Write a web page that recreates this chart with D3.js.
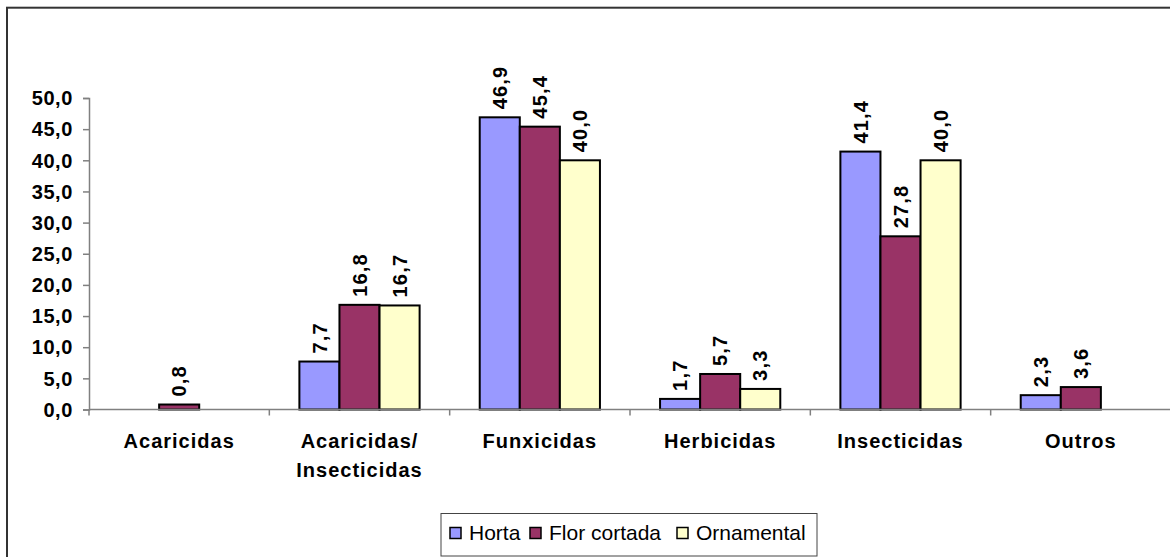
<!DOCTYPE html>
<html lang="pt">
<head>
<meta charset="UTF-8">
<script src="https://cdn.jsdelivr.net/npm/d3@7"></script>
<title>Produtos</title>
<style>
    body { margin: 0; background: #fff; }
    svg { display: block; font-family: "Liberation Sans", Arial, sans-serif; }
    .tick-lbl { font-size: 20px; font-weight: bold; fill: #000; letter-spacing: 0.6px; }
    .cat-lbl { font-size: 20px; font-weight: bold; fill: #000; letter-spacing: 1px; }
    .val-lbl { font-size: 20px; font-weight: bold; fill: #000; letter-spacing: 1.2px; }
    .leg-lbl { font-size: 21px; fill: #000; }
</style>
</head>
<body>
<svg id="chart" width="1170" height="557"></svg>
<script>
const categories = [["Acaricidas"], ["Acaricidas/", "Insecticidas"], ["Funxicidas"], ["Herbicidas"], ["Insecticidas"], ["Outros"]];
const seriesNames = ["Horta", "Flor cortada", "Ornamental"];
const horta = [null, 7.7, 46.9, 1.7, 41.4, 2.3];
const florCortada = [0.8, 16.8, 45.4, 5.7, 27.8, 3.6];
const ornamental = [null, 16.7, 40.0, 3.3, 40.0, null];
const yTicks = [0, 5, 10, 15, 20, 25, 30, 35, 40, 45, 50];
const colors = ["#9999FF", "#993366", "#FFFFCC"];

const series = [horta, florCortada, ornamental];
const fmt = v => v.toFixed(1).replace(".", ",");

const svg = d3.select("#chart");

// outer border (chart area frame, cut at right/bottom)
svg.append("rect")
    .attr("x", 7).attr("y", 7.7)
    .attr("width", 1300).attr("height", 700)
    .attr("fill", "none").attr("stroke", "#333").attr("stroke-width", 2);

const x = d3.scaleBand()
    .domain(d3.range(categories.length))
    .range([89, 1171])
    .padding(0);
const y = d3.scaleLinear().domain([0, 50]).range([409.5, 98]);

const w = x.step() / 4.5;

// y axis
const yAxis = svg.append("g")
    .attr("transform", "translate(89,0)")
    .call(d3.axisLeft(y).tickValues(yTicks).tickSize(6).tickFormat(""));
yAxis.select(".domain").attr("stroke", "#808080").attr("stroke-width", 1.5);
yAxis.selectAll(".tick line").attr("stroke", "#808080").attr("stroke-width", 1.5);

svg.append("g").selectAll("text")
    .data(yTicks).enter().append("text")
    .attr("class", "tick-lbl")
    .attr("x", 73)
    .attr("y", d => y(d))
    .attr("dy", "0.36em")
    .attr("text-anchor", "end")
    .text(fmt);

// bars
series.forEach((vals, si) => {
    const g = svg.append("g");
    const data = vals.map((v, i) => ({ v, i })).filter(d => d.v !== null);
    g.selectAll("rect")
        .data(data).enter().append("rect")
        .attr("x", d => x(d.i) + 0.75 * w + si * w)
        .attr("y", d => y(d.v))
        .attr("width", w)
        .attr("height", d => y(0) - y(d.v))
        .attr("fill", colors[si])
        .attr("stroke", "#000")
        .attr("stroke-width", 2);
    g.selectAll("text")
        .data(data).enter().append("text")
        .attr("class", "val-lbl")
        .attr("transform", d => `translate(${x(d.i) + 0.75 * w + si * w + w / 2},${y(d.v) - 8}) rotate(-90)`)
        .attr("dy", "0.36em")
        .text(d => fmt(d.v));
});

// x axis
const xAxis = svg.append("g")
    .attr("transform", `translate(0,${y(0)})`);
xAxis.append("line")
    .attr("x1", 89).attr("x2", 1171)
    .attr("stroke", "#808080").attr("stroke-width", 1.5);
xAxis.selectAll("line.tk")
    .data(d3.range(categories.length + 1)).enter().append("line")
    .attr("class", "tk")
    .attr("x1", i => 89 + i * x.step()).attr("x2", i => 89 + i * x.step())
    .attr("y1", 0).attr("y2", 6)
    .attr("stroke", "#808080").attr("stroke-width", 1.5);

svg.append("g").selectAll("text")
    .data(categories).enter().append("text")
    .attr("class", "cat-lbl")
    .attr("text-anchor", "middle")
    .attr("x", (d, i) => x(i) + x.bandwidth() / 2)
    .attr("y", 448)
    .each(function (d) {
        const t = d3.select(this);
        d.forEach((line, li) => {
            t.append("tspan")
                .attr("x", t.attr("x"))
                .attr("dy", li === 0 ? 0 : 28.5)
                .text(line);
        });
    });

// legend
const leg = svg.append("g");
leg.append("rect")
    .attr("x", 441).attr("y", 513.5)
    .attr("width", 376).attr("height", 42.5)
    .attr("fill", "#fff").attr("stroke", "#444").attr("stroke-width", 1);
const legX = [450, 530, 677];
seriesNames.forEach((name, i) => {
    leg.append("rect")
        .attr("x", legX[i]).attr("y", 527.5)
        .attr("width", 11).attr("height", 11)
        .attr("fill", colors[i]).attr("stroke", "#000").attr("stroke-width", 1.5);
    leg.append("text")
        .attr("class", "leg-lbl")
        .attr("x", legX[i] + 19)
        .attr("y", 540)
        .text(name);
});
</script>
</body>
</html>
